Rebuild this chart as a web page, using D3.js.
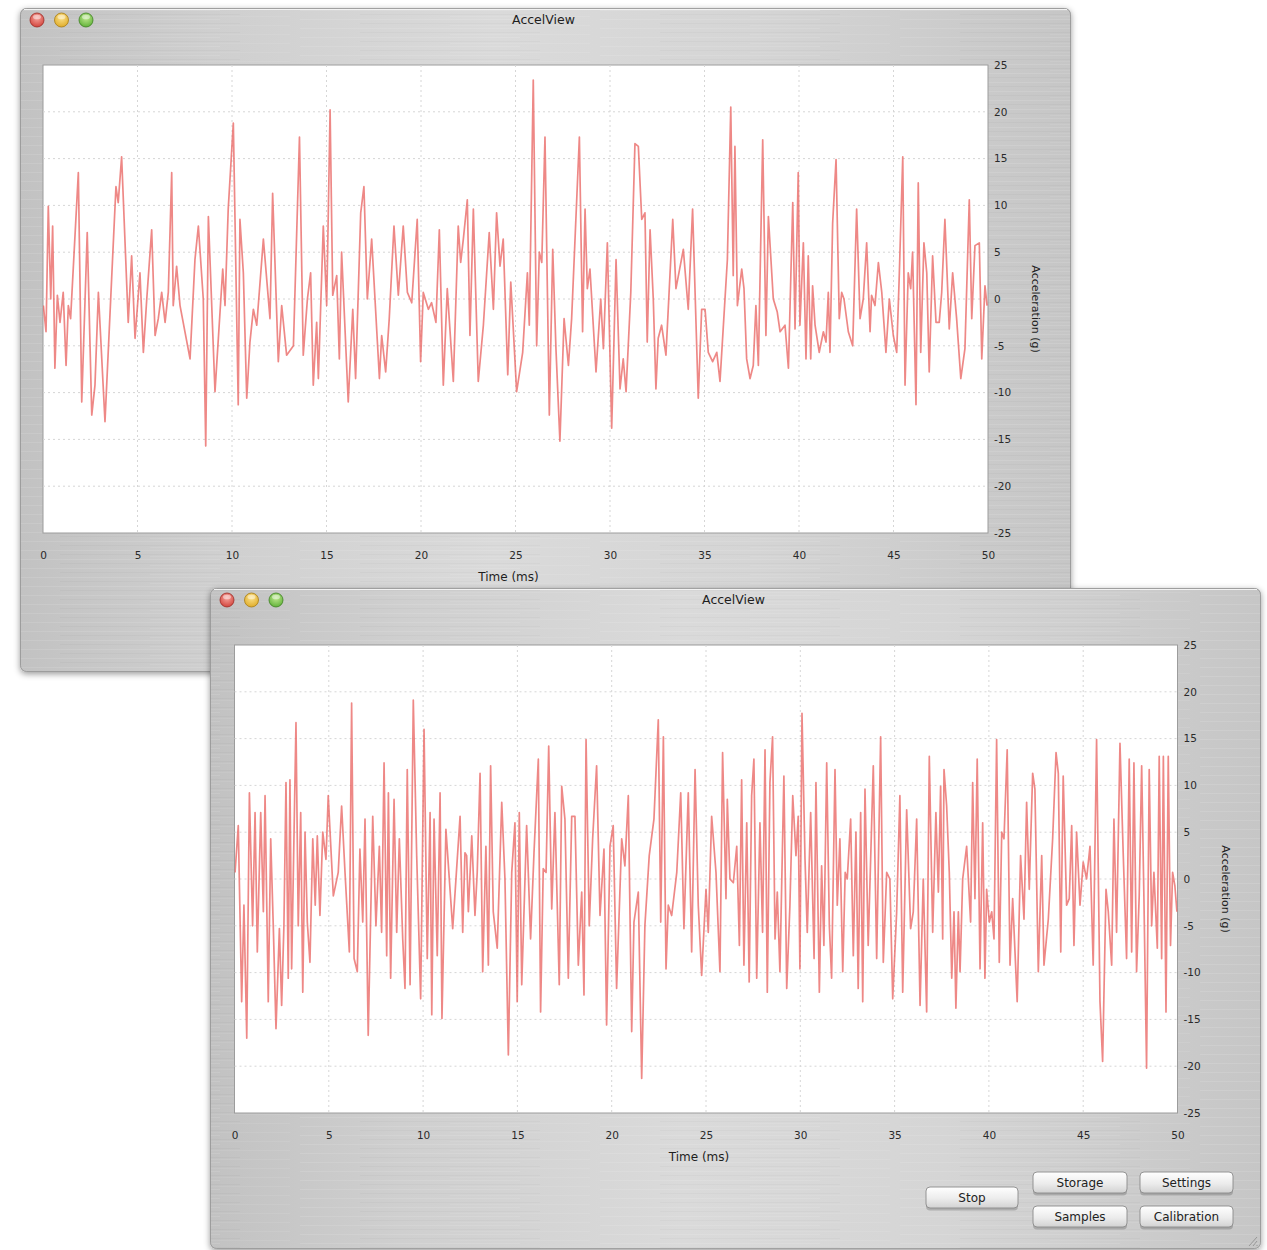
<!DOCTYPE html>
<html><head><meta charset="utf-8">
<script src="https://cdn.jsdelivr.net/npm/d3@7"></script>
<style>
body{margin:0;background:#fff;}
svg{display:block;font-family:"DejaVu Sans","Liberation Sans",Arial,sans-serif;}
</style>
</head><body>
<svg id="c" width="1267" height="1250"></svg>
<script>
// ---------------- DATA ----------------
const windowTitle = "AccelView";
const xLabel = "Time (ms)";
const yLabel = "Acceleration (g)";
const xTicks = [0,5,10,15,20,25,30,35,40,45,50];
const yTicks = [25,20,15,10,5,0,-5,-10,-15,-20,-25];
const buttonLabels = ["Stop","Storage","Settings","Samples","Calibration"];

// back window (top) – time in ms
const topTime = [0.02,0.16,0.28,0.41,0.51,0.63,0.76,0.9,1.07,1.22,1.34,1.46,1.87,2.05,2.34,2.58,2.75,2.93,3.28,3.63,3.86,3.98,4.16,4.51,4.69,4.87,5.13,5.31,5.49,5.75,5.93,6.1,6.28,6.46,6.63,6.81,6.89,7.07,7.25,7.78,8.04,8.22,8.48,8.61,8.75,9.1,9.51,9.63,9.8,10.07,10.33,10.42,10.6,10.78,10.95,11.13,11.31,11.66,12.01,12.15,12.45,12.63,12.89,13.25,13.57,13.77,13.99,14.16,14.3,14.48,14.57,14.83,15.01,15.19,15.33,15.54,15.68,15.8,16.15,16.39,16.54,16.81,16.98,17.16,17.39,17.8,17.92,18.13,18.32,18.57,18.8,19.06,19.28,19.51,19.8,19.98,20.12,20.39,20.56,20.79,20.97,21.18,21.39,21.71,21.97,22.1,22.24,22.45,22.59,22.77,23.03,23.3,23.61,23.83,24.0,24.18,24.35,24.59,24.75,25.06,25.38,25.63,25.73,25.94,26.12,26.26,26.39,26.56,26.79,26.97,27.14,27.35,27.57,27.8,27.97,28.38,28.55,28.68,28.8,28.94,29.26,29.51,29.65,29.86,30.09,30.32,30.53,30.7,30.85,31.1,31.32,31.5,31.68,31.85,31.97,32.12,32.29,32.43,32.55,32.73,32.96,33.32,33.49,33.88,34.14,34.37,34.67,34.85,35.03,35.2,35.43,35.65,35.82,36.21,36.39,36.52,36.61,36.74,36.97,37.09,37.23,37.41,37.58,37.72,37.85,38.08,38.25,38.38,38.64,38.85,39.0,39.26,39.44,39.67,39.79,39.96,40.05,40.23,40.37,40.49,40.62,40.72,40.85,41.07,41.29,41.43,41.55,41.64,41.78,41.96,42.13,42.26,42.38,42.61,42.84,43.05,43.23,43.4,43.58,43.76,43.84,44.02,44.2,44.38,44.6,44.78,44.99,45.17,45.31,45.49,45.61,45.78,45.91,46.01,46.19,46.31,46.44,46.61,46.76,46.89,47.07,47.25,47.42,47.55,47.72,47.95,48.13,48.34,48.56,48.78,49.01,49.14,49.31,49.54,49.67,49.84,49.95];
const topAccel = [-0.7,-3.5,9.9,0,7.8,-7.4,0.4,-2.5,0.7,-7.1,-0.7,-2.1,13.5,-11.0,7.1,-12.4,-9.2,0.7,-13.1,2.1,12.0,10.3,15.2,-2.5,4.6,-4.2,2.8,-5.7,0,7.4,-3.9,-2.1,0.7,-2.5,0.7,13.5,-0.7,3.5,-0.7,-6.4,4.2,7.8,0,-15.7,8.8,-9.9,3.2,-0.7,9.6,18.8,-11.3,8.5,2.8,-10.6,-4.6,-1.1,-2.8,6.4,-2.1,11.3,-6.7,-0.7,-6.0,-5.0,17.3,-6.0,0,2.8,-9.2,-2.5,-8.5,7.8,-0.7,20.2,0.4,2.5,-6.4,5.0,-11.0,-1.1,-8.5,9.2,12.0,0,6.4,-8.5,-3.9,-7.8,-2.1,7.8,0.4,7.8,0.7,-0.4,8.5,-6.7,0.7,-1.1,-0.4,-2.5,7.4,-9.2,1.1,-8.8,7.8,3.9,6.4,10.6,-3.9,9.6,-8.8,-2.8,7.1,-1.1,9.2,3.5,6.4,-8.1,1.8,-9.9,-5.7,2.8,-2.8,23.4,-5.0,5.0,3.9,17.3,-12.4,5.3,-5.3,-15.2,-2.1,-7.1,-2.1,17.3,-3.5,9.6,1.1,3.2,-7.8,0,-5.3,6.0,-13.8,4.2,-9.6,-6.4,-9.9,0.7,16.6,16.3,8.5,9.2,-4.6,7.4,0,-9.6,-4.2,-2.8,-6.0,8.5,1.1,5.3,-1.1,9.6,-10.6,-1.1,-1.1,-5.7,-6.7,-5.7,-8.8,4.2,20.5,2.5,16.3,-0.7,3.2,1.1,-6.4,-8.5,-7.1,-0.7,-7.1,17.0,-3.9,8.8,0,-1.4,-3.5,-2.8,-7.4,10.3,-3.2,13.5,-2.8,6.0,-6.4,4.6,-6.4,1.4,-2.8,-5.7,-3.5,-4.6,0.7,-5.7,8.1,14.9,-2.1,0.7,0,-3.5,-5.0,9.6,-2.1,0,6.0,-3.5,0.4,-0.7,3.9,0.7,-5.7,0,-3.9,-5.7,2.8,15.2,-9.2,2.8,1.1,5.0,-11.3,12.4,-5.7,6.0,2.8,-7.8,4.6,-2.5,-2.5,0.7,8.5,-3.2,2.8,-2.1,-8.5,-5.3,10.6,-2.1,5.7,6.0,-6.4,1.4,-0.7];

// front window (bottom) – time in ms
const bottomTime = [0.03,0.2,0.38,0.5,0.65,0.79,0.96,1.09,1.21,1.39,1.53,1.62,1.79,1.92,2.06,2.2,2.38,2.5,2.62,2.73,2.85,2.94,3.03,3.26,3.38,3.51,3.62,3.74,3.86,4.0,4.15,4.28,4.39,4.53,4.68,4.85,4.97,5.24,5.5,5.68,5.86,6.09,6.21,6.34,6.51,6.65,6.8,6.92,7.09,7.33,7.5,7.68,7.8,7.93,8.07,8.16,8.28,8.46,8.6,8.74,8.92,9.04,9.16,9.31,9.48,9.66,9.87,10.05,10.22,10.37,10.46,10.58,10.75,10.9,11.0,11.21,11.57,11.96,12.1,12.22,12.31,12.4,12.58,12.75,12.87,13.02,13.16,13.33,13.46,13.58,13.72,13.93,14.17,14.34,14.52,14.7,14.87,14.99,15.1,15.23,15.49,15.7,15.88,16.11,16.23,16.37,16.52,16.66,16.82,16.99,17.22,17.35,17.52,17.7,17.88,18.05,18.23,18.41,18.53,18.64,18.81,18.99,19.2,19.38,19.59,19.73,19.91,20.08,20.26,20.53,20.7,20.88,21.06,21.18,21.41,21.59,21.76,21.99,22.24,22.47,22.6,22.74,22.88,23.0,23.18,23.45,23.66,23.83,24.06,24.24,24.42,24.59,24.77,25.0,25.12,25.3,25.53,25.74,25.88,26.06,26.13,26.27,26.45,26.63,26.77,26.89,27.01,27.16,27.29,27.42,27.54,27.69,27.86,28.0,28.13,28.25,28.39,28.53,28.66,28.78,28.92,29.13,29.28,29.45,29.6,29.77,29.89,29.98,30.09,30.25,30.37,30.55,30.73,30.83,31.01,31.13,31.25,31.4,31.54,31.66,31.84,31.96,32.1,32.25,32.38,32.49,32.67,32.81,32.95,33.07,33.2,33.31,33.43,33.6,33.87,34.05,34.26,34.4,34.58,34.75,34.9,35.11,35.28,35.43,35.64,35.85,35.99,36.17,36.35,36.52,36.7,36.84,37.02,37.19,37.32,37.44,37.55,37.62,37.76,37.9,38.03,38.15,38.25,38.38,38.47,38.61,38.82,39.03,39.14,39.26,39.38,39.53,39.67,39.79,39.88,40.02,40.15,40.27,40.41,40.55,40.68,40.8,40.97,41.12,41.26,41.5,41.68,41.86,42.0,42.14,42.32,42.44,42.62,42.8,42.92,43.15,43.38,43.56,43.68,43.81,43.94,44.12,44.26,44.39,44.51,44.65,44.83,45.0,45.18,45.36,45.53,45.71,45.89,46.03,46.21,46.33,46.51,46.63,46.77,46.95,47.12,47.3,47.44,47.57,47.69,47.83,47.97,48.1,48.22,48.36,48.5,48.63,48.75,48.93,49.03,49.16,49.25,49.39,49.51,49.63,49.74,49.86,49.97];
const bottomAccel = [0.7,5.7,-13.1,-2.8,-17.0,9.2,-5.0,7.1,-7.8,7.1,-3.5,8.9,-13.1,4.3,-5.3,-16.0,-5.3,-13.5,-5.0,10.3,-10.6,10.6,-9.6,16.7,-5.0,7.1,-12.1,5.0,-4.6,-8.9,4.3,-2.8,4.6,-3.9,5.0,2.1,8.9,-1.8,0.7,7.8,0.7,-7.8,18.8,-8.5,-9.9,3.2,-4.6,6.4,-16.7,6.7,-5.0,3.5,-5.7,12.4,-8.2,9.2,-10.6,8.5,-5.7,4.3,-6.4,-11.7,11.7,-11.3,19.1,2.5,-12.8,16.0,-8.5,7.1,-14.5,6.4,-8.2,9.2,-14.9,5.3,-5.3,6.7,-5.7,2.8,2.5,-3.5,4.6,-3.9,0.7,11.3,-9.9,3.5,-9.2,12.1,-3.5,-7.4,8.2,0,-18.8,0.7,6.0,-13.1,7.1,-11.3,5.7,-6.4,2.8,12.8,-14.2,1.1,0.7,14.2,-3.2,7.1,-11.3,9.9,6.4,-10.6,6.7,6.7,-9.2,-1.4,-12.4,14.9,-5.0,4.3,12.1,-3.9,3.2,-15.6,3.5,5.7,-11.7,4.3,1.4,8.9,-16.3,-4.6,-1.4,-21.3,-5.0,2.5,6.4,17.0,-4.6,15.2,-9.6,-2.8,-3.9,0.7,9.2,-5.3,9.2,-7.8,11.7,-2.8,-10.3,-1.1,-5.7,6.7,0.7,-9.9,13.5,-2.1,8.5,0,-0.4,3.5,-7.1,10.6,-9.2,6.0,-11.0,8.9,12.8,-10.6,6.0,-5.7,13.8,-12.1,10.3,15.2,-6.4,-1.4,-9.9,11.0,-11.7,-2.8,8.9,2.5,6.7,-9.6,17.7,2.1,-5.7,7.1,-8.5,10.3,-12.1,1.4,-7.1,12.4,-5.0,-10.6,11.7,-2.8,4.3,-9.9,0.7,0,6.4,-8.2,5.0,-11.7,7.1,-13.1,9.6,-7.1,12.1,-8.5,15.2,-8.9,0.7,0,-12.8,-3.5,8.9,-12.1,7.4,-5.3,-3.5,6.4,-13.5,0,-14.2,13.1,-5.7,7.1,-1.4,9.9,-6.4,11.7,7.8,0.7,-10.6,-3.5,-13.8,-3.5,-9.9,0,3.5,-4.6,10.3,-2.1,12.8,-9.6,6.0,-10.6,-1.1,-4.6,-3.5,-6.4,14.9,-8.9,5.0,4.3,13.8,-9.2,-2.1,-13.1,2.5,-4.3,8.2,-1.1,11.3,9.6,-9.9,2.5,-9.2,-4.3,4.3,13.5,11.3,-7.8,11.0,-2.8,-2.1,5.7,-7.1,5.0,-2.8,1.8,0,3.5,-9.2,14.9,-13.1,-19.5,-1.1,-3.5,-9.2,6.4,-5.7,14.5,2.8,-8.5,12.8,-7.8,12.4,-9.9,-1.8,12.1,-2.1,-20.2,11.7,-5.0,0.7,-7.4,13.1,-8.5,13.1,-14.2,13.1,-7.1,0.7,-0.7,-3.5];

// ---------------- LAYOUT ----------------
const svg = d3.select("#c");
const defs = svg.append("defs");

const metal = defs.append("linearGradient").attr("id","metal").attr("x1","0").attr("x2","1").attr("y1","0").attr("y2","0");
[["0%","#c2c2c2"],["18%","#cfcfcf"],["45%","#dadada"],["70%","#d5d5d5"],["100%","#c6c6c6"]]
  .forEach(s=>metal.append("stop").attr("offset",s[0]).attr("stop-color",s[1]));

const streak = defs.append("pattern").attr("id","streak").attr("patternUnits","userSpaceOnUse")
  .attr("width",300).attr("height",9);
streak.append("rect").attr("x",0).attr("y",1).attr("width",220).attr("height",1).attr("fill","#fff").attr("opacity",0.1);
streak.append("rect").attr("x",60).attr("y",5).attr("width",180).attr("height",1).attr("fill","#000").attr("opacity",0.025);
streak.append("rect").attr("x",150).attr("y",7).attr("width",140).attr("height",1).attr("fill","#fff").attr("opacity",0.07);

const sh = defs.append("filter").attr("id","shadow").attr("x","-5%").attr("y","-5%").attr("width","110%").attr("height","112%");
sh.append("feDropShadow").attr("dx",0).attr("dy",2).attr("stdDeviation",3).attr("flood-color","#000").attr("flood-opacity",0.4);

const lights = [["#f6a39c","#d2453d","#9c2b25"],["#fbe08a","#e0ad2b","#a77c14"],["#bfe88f","#62b33a","#3d7f22"]];
lights.forEach((c,i)=>{
  const rg = defs.append("radialGradient").attr("id","tl"+i).attr("cx","50%").attr("cy","35%").attr("r","65%");
  rg.append("stop").attr("offset","0%").attr("stop-color",c[0]);
  rg.append("stop").attr("offset","100%").attr("stop-color",c[1]);
});
const bg = defs.append("linearGradient").attr("id","btn").attr("x1",0).attr("x2",0).attr("y1",0).attr("y2",1);
bg.append("stop").attr("offset","0%").attr("stop-color","#ffffff");
bg.append("stop").attr("offset","55%").attr("stop-color","#ececec");
bg.append("stop").attr("offset","100%").attr("stop-color","#d2d2d2");

const fmt = d => String(d);

function drawWindow(cfg, times, vals){
  const g = svg.append("g");
  g.append("rect").attr("x",cfg.x).attr("y",cfg.y).attr("width",cfg.w).attr("height",cfg.h)
    .attr("rx",6).attr("fill","url(#metal)").attr("filter","url(#shadow)");
  g.append("rect").attr("x",cfg.x).attr("y",cfg.y).attr("width",cfg.w).attr("height",cfg.h)
    .attr("rx",6).attr("fill","url(#streak)");
  g.append("rect").attr("x",cfg.x+0.5).attr("y",cfg.y+0.5).attr("width",cfg.w-1).attr("height",cfg.h-1)
    .attr("rx",6).attr("fill","none").attr("stroke","#939393").attr("stroke-width",0.8);
  g.append("line").attr("x1",cfg.x+4).attr("x2",cfg.x+cfg.w-4).attr("y1",cfg.y+1.5).attr("y2",cfg.y+1.5)
    .attr("stroke","#f2f2f2").attr("stroke-width",1);

  // traffic lights
  lights.forEach((c,i)=>{
    g.append("circle").attr("cx",cfg.x+17+i*24.5).attr("cy",cfg.y+12).attr("r",7)
      .attr("fill","url(#tl"+i+")").attr("stroke",c[2]).attr("stroke-width",0.8);
    g.append("ellipse").attr("cx",cfg.x+17+i*24.5).attr("cy",cfg.y+9).attr("rx",4).attr("ry",2.3)
      .attr("fill","#fff").attr("opacity",0.45);
  });
  g.append("text").attr("x",cfg.x+cfg.w/2-2).attr("y",cfg.y+16).attr("text-anchor","middle")
    .attr("font-size",12.5).attr("fill","#1e1e1e").text(windowTitle);

  const x = d3.scaleLinear().domain([0,50]).range([cfg.px0, cfg.px1]);
  const y = d3.scaleLinear().domain([-25,25]).range([cfg.py1, cfg.py0]);

  g.append("rect").attr("x",cfg.px0).attr("y",cfg.py0).attr("width",cfg.px1-cfg.px0).attr("height",cfg.py1-cfg.py0)
    .attr("fill","#fff").attr("stroke","#9c9c9c").attr("stroke-width",1);

  const grid = g.append("g").attr("stroke","#d6d6d6").attr("stroke-width",1).attr("stroke-dasharray","2,3");
  grid.selectAll(".gx").data(xTicks.slice(1,-1)).join("line")
    .attr("x1",d=>x(d)).attr("x2",d=>x(d)).attr("y1",cfg.py0).attr("y2",cfg.py1);
  grid.selectAll(".gy").data(yTicks.slice(1,-1)).join("line")
    .attr("x1",cfg.px0).attr("x2",cfg.px1).attr("y1",d=>y(d)).attr("y2",d=>y(d));

  const cid = "clip"+cfg.id;
  defs.append("clipPath").attr("id",cid).append("rect")
    .attr("x",cfg.px0).attr("y",cfg.py0).attr("width",cfg.px1-cfg.px0).attr("height",cfg.py1-cfg.py0);
  const pts = times.map((t,i)=>[t, vals[i]]);
  g.append("path").datum(pts).attr("clip-path","url(#"+cid+")")
    .attr("d", d3.line().x(d=>x(d[0])).y(d=>y(d[1])))
    .attr("fill","none").attr("stroke","#e8605d").attr("stroke-opacity",0.75)
    .attr("stroke-width",1.7).attr("stroke-linejoin","round");

  const ax = g.append("g").attr("transform",`translate(0,${cfg.py1})`)
    .call(d3.axisBottom(x).tickValues(xTicks).tickSize(0).tickPadding(19).tickFormat(fmt));
  ax.select(".domain").remove();
  ax.selectAll("text").attr("font-size",10.5).attr("fill","#2a2a2a").attr("font-family","DejaVu Sans, sans-serif");

  const ay = g.append("g").attr("transform",`translate(${cfg.px1},0)`)
    .call(d3.axisRight(y).tickValues(yTicks).tickSize(0).tickPadding(6).tickFormat(fmt));
  ay.select(".domain").remove();
  ay.selectAll("text").attr("font-size",10.5).attr("fill","#2a2a2a").attr("font-family","DejaVu Sans, sans-serif");

  g.append("text").attr("x",(cfg.px0+cfg.px1)/2-7).attr("y",cfg.py1+48).attr("text-anchor","middle")
    .attr("font-size",12).attr("fill","#1e1e1e").text(xLabel);
  g.append("text").attr("transform",`translate(${cfg.px1+44},${(cfg.py0+cfg.py1)/2+10}) rotate(90)`)
    .attr("text-anchor","middle").attr("font-size",11).attr("fill","#1e1e1e").text(yLabel);
  return g;
}

drawWindow({id:"a",x:20,y:8,w:1051,h:664,px0:43,px1:988,py0:65,py1:533}, topTime, topAccel);
const front = drawWindow({id:"b",x:210,y:588,w:1051,h:661,px0:234.5,px1:1177.5,py0:645,py1:1113}, bottomTime, bottomAccel);

// buttons
const btnLayout = [[926,1187,92],[1033,1172,94],[1140,1172,93],[1033,1206,94],[1140,1206,93]];
buttonLabels.forEach((lab,i)=>{
  const [bx,by,bw] = btnLayout[i];
  front.append("rect").attr("x",bx).attr("y",by+1.5).attr("width",bw).attr("height",22).attr("rx",4)
    .attr("fill","#000").attr("opacity",0.18);
  front.append("rect").attr("x",bx).attr("y",by).attr("width",bw).attr("height",21).attr("rx",4)
    .attr("fill","url(#btn)").attr("stroke","#8a8a8a").attr("stroke-width",0.9);
  front.append("text").attr("x",bx+bw/2).attr("y",by+15).attr("text-anchor","middle")
    .attr("font-size",12).attr("fill","#222").text(lab);
});
// resize grip
[0,4,8].forEach(o=>{
  front.append("line").attr("x1",1257-o).attr("y1",1246).attr("x2",1257).attr("y2",1246-o-1)
    .attr("stroke","#8a8a8a").attr("stroke-width",0.8);
});
</script>
</body></html>
